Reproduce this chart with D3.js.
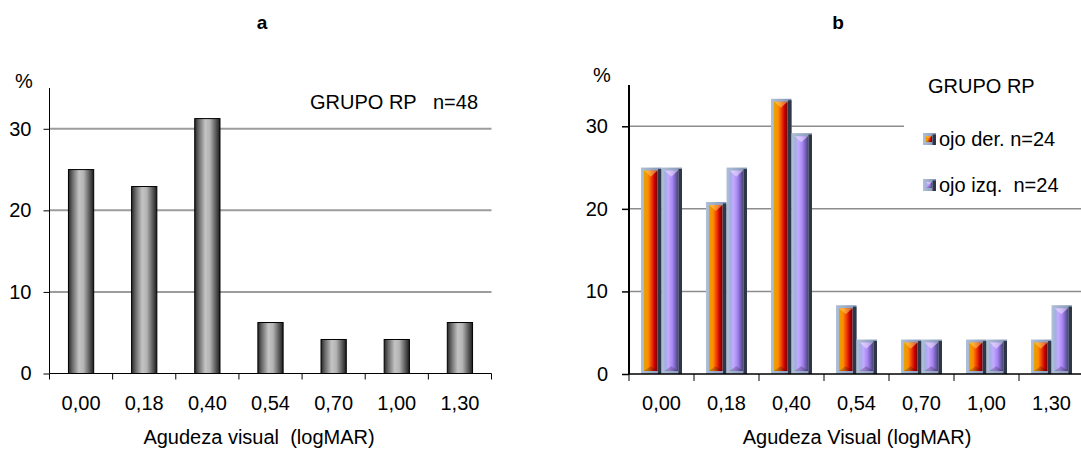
<!DOCTYPE html>
<html>
<head>
<meta charset="utf-8">
<script src="https://cdn.jsdelivr.net/npm/d3@7"></script>
<style>
  html, body { margin: 0; padding: 0; background: #fff; }
  svg { display: block; font-family: "Liberation Sans", Arial, sans-serif; }
</style>
</head>
<body>
<svg id="chart" width="1081" height="450"></svg>
<script>
// Visual acuity categories (logMAR)
const categories = ["0,00", "0,18", "0,40", "0,54", "0,70", "1,00", "1,30"];
// Panel a: whole RP group, percentage of eyes (n=48)
const grupoTotal = [25.0, 22.92, 31.25, 6.25, 4.17, 4.17, 6.25];
// Panel b: right vs left eye, percentage (n=24 each)
const ojoDer = [25.0, 20.83, 33.33, 8.33, 4.17, 4.17, 4.17];
const ojoIzq = [25.0, 25.0, 29.17, 4.17, 4.17, 4.17, 8.33];
const seriesNames = ["ojo der. n=24", "ojo izq.  n=24"];
const yTicks = [0, 10, 20, 30];

const svg = d3.select("#chart");
const defs = svg.append("defs");

function linGrad(id, stops) {
  const g = defs.append("linearGradient").attr("id", id)
    .attr("x1", "0%").attr("x2", "100%").attr("y1", "0%").attr("y2", "0%");
  stops.forEach(([o, c]) => g.append("stop").attr("offset", o).attr("stop-color", c));
}
linGrad("grayCyl", [[0, "#262626"], [0.15, "#666"], [0.42, "#c4c4c4"], [0.6, "#b4b4b4"], [0.85, "#555"], [1, "#1c1c1c"]]);
linGrad("steel", [[0, "#b0bfd8"], [1, "#8494b4"]]);
linGrad("faceDer", [[0, "#e4a400"], [0.3, "#ff8c00"], [0.55, "#f04000"], [0.78, "#c80000"], [1, "#6a0000"]]);
linGrad("faceIzq", [[0, "#9cb0e0"], [0.3, "#c4a8ff"], [0.6, "#a384f0"], [0.85, "#7058b0"], [1, "#464a70"]]);

const FONT = 20;

// ---------- Panel a ----------
const xa = d3.scaleBand().domain(categories).range([49.5, 491.5]);
const ya = d3.scaleLinear().domain([0, 35]).range([373.5, 88]);
const ga = svg.append("g");

ga.append("text").attr("x", 262).attr("y", 29).attr("text-anchor", "middle")
  .attr("font-weight", "bold").attr("font-size", 19).text("a");

// gridlines
ga.selectAll("line.grid").data(yTicks.filter(d => d > 0)).join("line")
  .attr("x1", xa.range()[0]).attr("x2", xa.range()[1])
  .attr("y1", d => ya(d)).attr("y2", d => ya(d))
  .attr("stroke", "#9c9c9c").attr("stroke-width", 2);

// bars
const bwA = xa.bandwidth() * 0.4;
ga.selectAll("rect.bar").data(grupoTotal).join("rect")
  .attr("x", (d, i) => xa(categories[i]) + (xa.bandwidth() - bwA) / 2)
  .attr("y", d => ya(d))
  .attr("width", bwA)
  .attr("height", d => ya(0) - ya(d))
  .attr("fill", "url(#grayCyl)").attr("stroke", "#000").attr("stroke-width", 1);

// y axis
const yAxA = ga.append("g").attr("transform", `translate(${xa.range()[0]},0)`)
  .call(d3.axisLeft(ya).tickValues(yTicks).tickSize(6).tickPadding(12).tickFormat(d3.format("d")));
yAxA.select(".domain").attr("d", `M0,${ya(0)}V${ya(35)}`).attr("stroke", "#000");
yAxA.selectAll("text").attr("font-size", FONT).attr("fill", "#000").attr("font-family", null);

// x axis
const xAxA = ga.append("g").attr("transform", `translate(0,${ya(0)})`)
  .call(d3.axisBottom(xa).tickSize(0).tickPadding(22));
xAxA.select(".domain").remove();
xAxA.selectAll("text").attr("font-size", FONT).attr("fill", "#000").attr("font-family", null);
ga.append("line").attr("x1", xa.range()[0]).attr("x2", xa.range()[1])
  .attr("y1", ya(0)).attr("y2", ya(0)).attr("stroke", "#000");
ga.selectAll("line.xt").data(categories.map(c => xa(c)).concat([xa.range()[1]])).join("line")
  .attr("x1", d => d).attr("x2", d => d).attr("y1", ya(0)).attr("y2", ya(0) + 6)
  .attr("stroke", "#000");

ga.append("text").attr("x", 15).attr("y", 88).attr("font-size", FONT).text("%");
ga.append("text").attr("x", 310).attr("y", 109).attr("font-size", FONT)
  .attr("xml:space", "preserve").style("white-space", "pre").text("GRUPO RP   n=48");
ga.append("text").attr("x", 259).attr("y", 444).attr("text-anchor", "middle")
  .attr("font-size", FONT).style("white-space", "pre").text("Agudeza visual  (logMAR)");

// ---------- Panel b ----------
const xb = d3.scaleBand().domain(categories).range([629, 1084]);
const yb = d3.scaleLinear().domain([0, 35]).range([374, 85]);
const groupW = xb.bandwidth() * 0.63;
const xs = d3.scaleBand().domain(seriesNames).range([0, groupW]);
const gb = svg.append("g");

gb.append("text").attr("x", 838).attr("y", 29).attr("text-anchor", "middle")
  .attr("font-weight", "bold").attr("font-size", 19).text("b");

gb.selectAll("line.grid").data(yTicks.filter(d => d > 0)).join("line")
  .attr("x1", xb.range()[0]).attr("x2", xb.range()[1])
  .attr("y1", d => yb(d)).attr("y2", d => yb(d))
  .attr("stroke", "#8c8c8c").attr("stroke-width", 1.5);

// bevelled 3-D style bar
function bevelBar(g, x, y, w, h, face, capColor) {
  const b = g.append("g");
  b.append("rect").attr("x", x).attr("y", y).attr("width", w).attr("height", h).attr("fill", "url(#steel)");
  const fx = x + 3, fw = w - 7, fy = y + 3, fh = Math.max(h - 6, 0);
  b.append("rect").attr("x", fx).attr("y", fy).attr("width", fw).attr("height", fh).attr("fill", face);
  const cap = Math.min(fw * 0.45, fh / 2);
  b.append("polygon")
    .attr("points", `${fx},${fy} ${fx + fw},${fy} ${fx + fw / 2},${fy + cap}`)
    .attr("fill", capColor).attr("opacity", 0.55);
  b.append("polygon")
    .attr("points", `${fx},${fy + fh} ${fx + fw},${fy + fh} ${fx + fw / 2},${fy + fh - cap * 0.8}`)
    .attr("fill", "#000").attr("opacity", 0.22);
  b.append("rect").attr("x", x + w - 3.5).attr("y", y + 1.5).attr("width", 3.5).attr("height", Math.max(h - 1.5, 0))
    .attr("fill", "#2e3648");
}

const seriesData = [
  { name: seriesNames[0], values: ojoDer, face: "url(#faceDer)", cap: "#ffd060" },
  { name: seriesNames[1], values: ojoIzq, face: "url(#faceIzq)", cap: "#f0e4ff" }
];
const barsB = gb.append("g");
categories.forEach((c, i) => {
  const gx = xb(c) + (xb.bandwidth() - groupW) / 2;
  seriesData.forEach(s => {
    const v = s.values[i];
    bevelBar(barsB, gx + xs(s.name), yb(v), xs.bandwidth(), yb(0) - yb(v), s.face, s.cap);
  });
});

// legend area (white box over the gridlines)
gb.append("rect").attr("x", 904).attr("y", 100).attr("width", 180).attr("height", 106).attr("fill", "#fff");
gb.append("text").attr("x", 928).attr("y", 93).attr("font-size", FONT).text("GRUPO RP");
seriesData.forEach((s, i) => {
  const ly = 133 + i * 46;
  bevelBar(gb, 923, ly, 13, 12, s.face, s.cap);
  gb.append("text").attr("x", 939).attr("y", ly + 13).attr("font-size", FONT)
    .style("white-space", "pre").text(s.name);
});

// y axis
const yAxB = gb.append("g").attr("transform", `translate(${xb.range()[0]},0)`)
  .call(d3.axisLeft(yb).tickValues(yTicks).tickSize(7).tickPadding(14).tickFormat(d3.format("d")));
yAxB.select(".domain").attr("d", `M0,${yb(0)}V${yb(35)}`).attr("stroke", "#000").attr("stroke-width", 2);
yAxB.selectAll(".tick line").attr("stroke-width", 1.5);
yAxB.selectAll("text").attr("font-size", FONT).attr("fill", "#000").attr("font-family", null);

// x axis
const xAxB = gb.append("g").attr("transform", `translate(0,${yb(0)})`)
  .call(d3.axisBottom(xb).tickSize(0).tickPadding(22));
xAxB.select(".domain").remove();
xAxB.selectAll("text").attr("font-size", FONT).attr("fill", "#000").attr("font-family", null);
gb.append("line").attr("x1", xb.range()[0]).attr("x2", xb.range()[1])
  .attr("y1", yb(0)).attr("y2", yb(0)).attr("stroke", "#000").attr("stroke-width", 1.5);
gb.selectAll("line.xt").data(categories.map(c => xb(c)).concat([xb.range()[1]])).join("line")
  .attr("x1", d => d).attr("x2", d => d).attr("y1", yb(0)).attr("y2", yb(0) + 7)
  .attr("stroke", "#000");

gb.append("text").attr("x", 593).attr("y", 82).attr("font-size", FONT).text("%");
gb.append("text").attr("x", 857).attr("y", 444).attr("text-anchor", "middle")
  .attr("font-size", FONT).text("Agudeza Visual (logMAR)");
</script>
</body>
</html>
